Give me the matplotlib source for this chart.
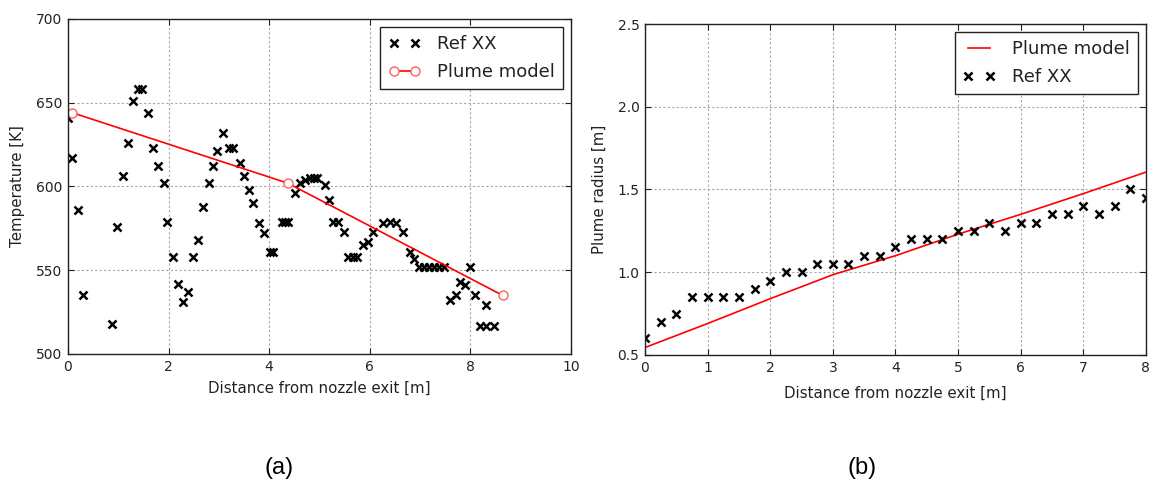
import numpy as np
import matplotlib.pyplot as plt

# ---- panel (a): temperature along the plume ----
ref_x_a = [0.0, 0.08, 0.2, 0.29, 0.88, 0.97, 1.09, 1.19, 1.30, 1.40, 1.48, 1.60, 1.70, 1.78,
           1.91, 1.97, 2.08, 2.19, 2.29, 2.39, 2.49, 2.59, 2.68, 2.80, 2.89, 2.97, 3.09, 3.20,
           3.29, 3.41, 3.49, 3.60, 3.68, 3.80, 3.90, 4.02, 4.07, 4.25, 4.31, 4.38, 4.51, 4.61,
           4.71, 4.81, 4.89, 4.96, 5.11, 5.18, 5.27, 5.37, 5.49, 5.57, 5.66, 5.75, 5.87, 5.97,
           6.07, 6.27, 6.40, 6.53, 6.67, 6.80, 6.87, 6.97, 7.07, 7.17, 7.27, 7.37, 7.47, 7.59,
           7.71, 7.79, 7.89, 7.99, 8.09, 8.19, 8.31, 8.32, 8.46]
ref_T_a = [641, 617, 586, 535, 518, 576, 606, 626, 651, 658, 658, 644, 623, 612,
           602, 579, 558, 542, 531, 537, 558, 568, 588, 602, 612, 621, 632, 623,
           623, 614, 606, 598, 590, 578, 572, 561, 561, 579, 579, 579, 596, 602,
           604, 605, 605, 605, 601, 592, 579, 579, 573, 558, 558, 558, 565, 567,
           573, 578, 579, 578, 573, 561, 557, 552, 552, 552, 552, 552, 552, 532,
           535, 543, 541, 552, 535, 517, 529, 517, 517]
model_x_a = [0.09, 4.37, 8.64]
model_T_a = [644, 602, 535]

# ---- panel (b): plume radius ----
ref_x_b = [0, 0.25, 0.5, 0.75, 1.0, 1.25, 1.5, 1.75, 2.0, 2.25, 2.5, 2.75, 3.0, 3.25, 3.5,
           3.75, 4.0, 4.25, 4.5, 4.75, 5.0, 5.25, 5.5, 5.75, 6.0, 6.25, 6.5, 6.75, 7.0,
           7.25, 7.5, 7.75, 8.0]
ref_r_b = [0.6, 0.7, 0.75, 0.85, 0.85, 0.85, 0.85, 0.9, 0.95, 1.0, 1.0, 1.05, 1.05, 1.05, 1.1,
           1.1, 1.15, 1.2, 1.2, 1.2, 1.25, 1.25, 1.3, 1.25, 1.3, 1.3, 1.35, 1.35, 1.4,
           1.35, 1.4, 1.5, 1.45]
model_x_b = [0, 1, 2, 3, 4, 5, 6, 7, 8]
model_r_b = [0.545, 0.69, 0.84, 0.985, 1.1, 1.23, 1.35, 1.475, 1.605]

plt.rcParams['font.family'] = 'DejaVu Sans'
plt.rcParams['text.color'] = '#222222'
plt.rcParams['axes.labelcolor'] = '#222222'
plt.rcParams['xtick.color'] = '#222222'
plt.rcParams['ytick.color'] = '#222222'

fig = plt.figure(figsize=(11.54, 4.92), dpi=100)
ax1 = fig.add_axes([0.0589, 0.2805, 0.4359, 0.6809])
ax2 = fig.add_axes([0.5589, 0.2785, 0.4341, 0.6727])


def style_axis(ax):
    ax.grid(True, linestyle=(0, (2, 2)), color='0.65', linewidth=0.8)
    ax.set_axisbelow(True)
    ax.tick_params(direction='in', top=True, right=True, labelsize=10, length=4,
                   width=0.8, pad=4)
    for sp in ax.spines.values():
        sp.set_linewidth(1.0)
        sp.set_color('#222222')


def add_legend(ax):
    leg = ax.legend(loc='upper right', numpoints=2, fontsize=13, fancybox=False,
                    framealpha=1, edgecolor='#222222', borderpad=0.45,
                    handlelength=1.8, handletextpad=0.9, labelspacing=0.54,
                    borderaxespad=0.45)
    leg.get_frame().set_linewidth(1.0)


ax1.plot(ref_x_a, ref_T_a, 'x', color='black', markersize=6, mew=1.8, label='Ref XX')
ax1.plot(model_x_a, model_T_a, '-o', color='red', linewidth=1.2, markersize=6.5,
         markerfacecolor='white', markeredgecolor='#ff6060', mew=1.0, label='Plume model')
ax1.set_xlim(0, 10)
ax1.set_ylim(500, 700)
ax1.set_xticks([0, 2, 4, 6, 8, 10])
ax1.set_yticks([500, 550, 600, 650, 700])
ax1.set_xlabel('Distance from nozzle exit [m]', fontsize=10.8, labelpad=5)
ax1.set_ylabel('Temperature [K]', fontsize=10.8, labelpad=8)
style_axis(ax1)
add_legend(ax1)

ax2.plot(model_x_b, model_r_b, '-', color='red', linewidth=1.2, label='Plume model')
ax2.plot(ref_x_b, ref_r_b, 'x', color='black', markersize=6, mew=1.8, label='Ref XX')
ax2.set_xlim(0, 8)
ax2.set_ylim(0.5, 2.5)
ax2.set_xticks(np.arange(0, 9, 1))
ax2.set_yticks([0.5, 1.0, 1.5, 2.0, 2.5])
ax2.set_xlabel('Distance from nozzle exit [m]', fontsize=10.8, labelpad=8)
ax2.set_ylabel('Plume radius [m]', fontsize=10.8, labelpad=8)
style_axis(ax2)
add_legend(ax2)

fig.text(279 / 1154, 1 - 468 / 492, '(a)', fontsize=17, family='Liberation Sans',
         ha='center', va='center', color='black')
fig.text(862 / 1154, 1 - 468 / 492, '(b)', fontsize=17, family='Liberation Sans',
         ha='center', va='center', color='black')

fig.savefig('out.png', dpi=100, facecolor='white')
